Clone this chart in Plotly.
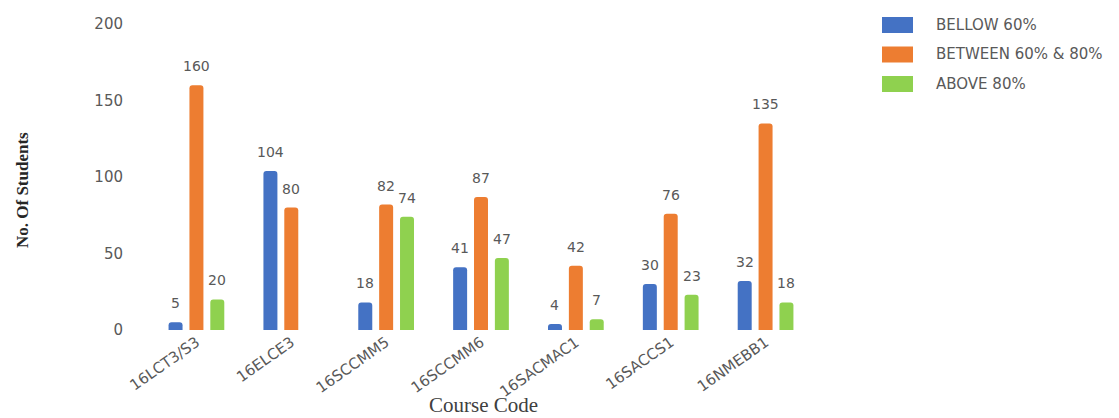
import plotly.graph_objects as go

categories = ["16LCT3/S3", "16ELCE3", "16SCCMM5", "16SCCMM6", "16SACMAC1", "16SACCS1", "16NMEBB1"]
below_60 = [5, 104, 18, 41, 4, 30, 32]
between_60_80 = [160, 80, 82, 87, 42, 76, 135]
above_80 = [20, None, 74, 47, 7, 23, 18]

series_names = ["BELLOW 60%", "BETWEEN 60% & 80%", "ABOVE 80%"]
series_values = [below_60, between_60_80, above_80]
series_colors = ["#4472C4", "#ED7D31", "#8FD14F"]

L, R, T, B = 141, 314, 16, 96
W, H = 1119, 418
PW, PH = W - L - R, H - T - B
SLOT = PW / len(categories) * (1 - 0.34) / 3  # pixel width of one bar slot

fig = go.Figure()
shapes, annotations = [], []
for i, (name, vals, color) in enumerate(zip(series_names, series_values, series_colors)):
    fig.add_trace(go.Bar(
        x=categories, y=vals, name=name,
        marker=dict(color=color, line=dict(width=0)),
        showlegend=False,
        hoverinfo="x+y+name",
    ))
    # data labels, floated a little above each bar
    for c, v in zip(categories, vals):
        if v is None:
            continue
        annotations.append(dict(x=c, y=v, xref="x", yref="y", text=str(v), showarrow=False,
                                xanchor="center", yanchor="bottom", xshift=(i - 1) * SLOT, yshift=9,
                                font=dict(family="DejaVu Sans", size=14, color="#595959")))
    # custom legend (large rectangular swatches as in the reference)
    cy = 17 + i * 29.5
    shapes.append(dict(type="rect", xref="paper", yref="paper",
                       x0=(874 - L) / PW, x1=(905 - L) / PW,
                       y0=(H - B - (cy + 8)) / PH, y1=(H - B - (cy - 8)) / PH,
                       fillcolor=color, line=dict(width=0), layer="above"))
    annotations.append(dict(xref="paper", yref="paper", x=(926 - L) / PW, y=(H - B - cy) / PH,
                            xanchor="left", yanchor="middle", showarrow=False, text=name,
                            font=dict(family="DejaVu Sans", size=15, color="#595959")))

# axis titles
annotations.append(dict(xref="paper", yref="paper", x=(14 - L) / PW, y=(H - B - 182) / PH,
                        xanchor="center", yanchor="middle", showarrow=False, textangle=-90,
                        text="<b>No. Of Students</b>",
                        font=dict(family="Liberation Serif", size=17, color="#262626")))
annotations.append(dict(xref="paper", yref="paper", x=(475 - L) / PW, y=(H - B - 397) / PH,
                        xanchor="center", yanchor="middle", showarrow=False,
                        text="Course Code",
                        font=dict(family="Liberation Serif", size=21, color="#404040")))

fig.update_layout(
    width=W, height=H,
    paper_bgcolor="white", plot_bgcolor="white",
    margin=dict(l=L, r=R, t=T, b=B, autoexpand=False),
    barmode="group", bargap=0.34, bargroupgap=0.33,
    barcornerradius=3,
    font=dict(family="DejaVu Sans", color="#595959"),
    showlegend=False,
    shapes=shapes,
    annotations=annotations,
    xaxis=dict(
        tickangle=-35, showgrid=False, showline=False, zeroline=False, automargin=False,
        tickfont=dict(family="DejaVu Sans", size=15, color="#595959"),
    ),
    yaxis=dict(
        range=[0, 200], dtick=50, showgrid=False, showline=False, zeroline=False, automargin=False,
        tickfont=dict(family="DejaVu Sans", size=15, color="#595959"),
        ticklabelstandoff=25,
    ),
)

fig.write_html("out.html")
